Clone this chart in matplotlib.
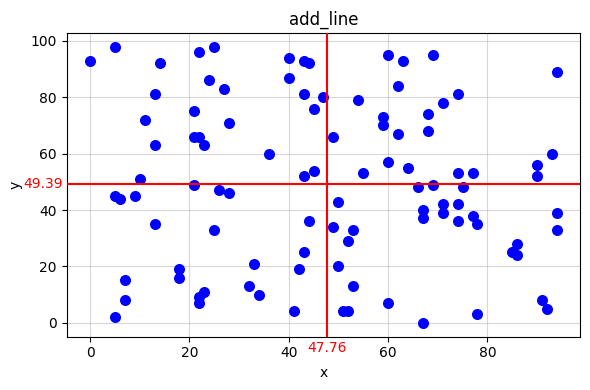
import numpy as np
import matplotlib
matplotlib.use('Agg')
import matplotlib.pyplot as plt
import matplotlib.transforms as mtransforms

# Data
x = [0, 5, 14, 13, 11, 13, 10, 21, 21, 22,
     23, 22, 25, 24, 27, 28, 21, 36, 40, 40,
     43, 44, 43, 45, 47, 45, 43, 26, 28, 60,
     63, 69, 94, 62, 74, 54, 71, 59, 59, 68,
     62, 68, 49, 93, 60, 90, 90, 55, 64, 74,
     77, 66, 69, 75, 5, 6, 9, 13, 25, 44,
     43, 33, 42, 18, 18, 7, 7, 5, 32, 34,
     23, 22, 22, 41, 50, 49, 53, 52, 50, 53,
     51, 52, 60, 67, 78, 71, 74, 67, 67, 71,
     74, 77, 78, 94, 94, 86, 85, 86, 91, 92]
y = [93, 98, 92, 81, 72, 63, 51, 75, 66, 66,
     63, 96, 98, 86, 83, 71, 49, 60, 94, 87,
     93, 92, 81, 76, 80, 54, 52, 47, 46, 95,
     93, 95, 89, 84, 81, 79, 78, 73, 70, 74,
     67, 68, 66, 60, 57, 56, 52, 53, 55, 53,
     53, 48, 49, 48, 45, 44, 45, 35, 33, 36,
     25, 21, 19, 19, 16, 15, 8, 2, 13, 10,
     11, 9, 7, 4, 43, 34, 33, 29, 20, 13,
     4, 4, 7, 0, 3, 42, 42, 40, 37, 39,
     36, 38, 35, 39, 33, 28, 25, 24, 8, 5]


def main():
    x_mean = np.mean(x)
    y_mean = np.mean(y)

    fig, ax = plt.subplots(figsize=(5.9, 3.9), dpi=100)
    ax.scatter(x, y, color='blue', s=48, zorder=2)
    ax.axvline(x_mean, color='red', lw=1.5, zorder=3)
    ax.axhline(y_mean, color='red', lw=1.5, zorder=3)

    # value labels next to the axes, like extra tick labels
    tx = mtransforms.blended_transform_factory(ax.transData, ax.transAxes)
    ty = mtransforms.blended_transform_factory(ax.transAxes, ax.transData)
    ax.text(x_mean, -0.014, f'{x_mean:.2f}', color='red', fontsize=10,
            ha='center', va='top', transform=tx)
    ax.text(-0.007, y_mean, f'{y_mean:.2f}', color='red', fontsize=10,
            ha='right', va='center', transform=ty)

    ax.grid(True, alpha=0.5)
    ax.set_axisbelow(True)
    ax.set_title('add_line')
    ax.set_xlabel('x')
    ax.set_ylabel('y', labelpad=6)

    fig.subplots_adjust(left=0.113, right=0.9836, top=0.916, bottom=0.137)
    fig.savefig('out.png')


if __name__ == '__main__':
    main()
